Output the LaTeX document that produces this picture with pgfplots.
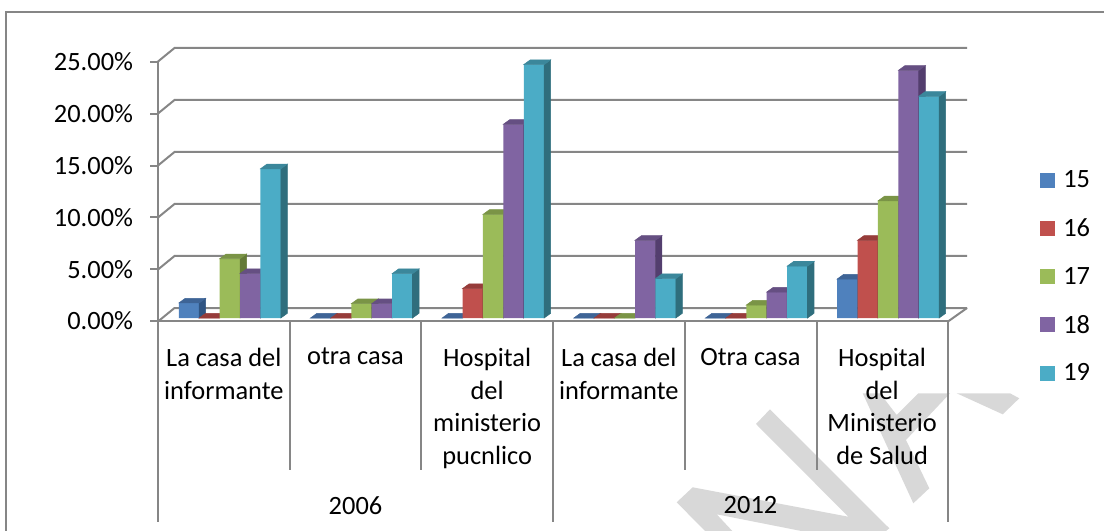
\documentclass[border=0pt]{standalone}
\usepackage{fontspec}
\setmainfont{Carlito}
\usepackage{pgfplots}
\usepackage{pgfplotstable}
\pgfplotsset{compat=1.18}

\definecolor{gridgray}{RGB}{134,134,134}
\definecolor{wmgray}{RGB}{216,216,216}
\definecolor{c15}{HTML}{4F81BD}\definecolor{c15s}{RGB}{47,84,130}\definecolor{c15t}{RGB}{62,100,150}
\definecolor{c16}{HTML}{C0504D}\definecolor{c16s}{RGB}{130,50,47}\definecolor{c16t}{RGB}{150,60,58}
\definecolor{c17}{HTML}{9BBB59}\definecolor{c17s}{RGB}{100,122,55}\definecolor{c17t}{RGB}{122,148,70}
\definecolor{c18}{HTML}{8064A2}\definecolor{c18s}{RGB}{83,62,110}\definecolor{c18t}{RGB}{101,79,130}
\definecolor{c19}{HTML}{4BACC6}\definecolor{c19s}{RGB}{47,110,125}\definecolor{c19t}{RGB}{59,135,155}

\pgfplotstableread{
x   a15  a16  a17   a18   a19
0.5 1.45 0    5.72  4.28  14.40
1.5 0    0    1.38  1.38  4.28
2.5 0    2.84 10.00 18.70 24.46
3.5 0    0    0     7.50  3.80
4.5 0    0    1.25  2.50  5.00
5.5 3.76 7.50 11.30 23.90 21.40
}\datatable

% one series: front of the bar, then its side and top face
\newcommand{\series}[2]{%
  \addplot[ybar, bar shift=#2, bar width=15.3pt, fill=c#1, draw=none,
    yshift=2.25pt] table[x=x, y=a#1] {\datatable};
  \addlegendentry{#1}
  \addplot[forget plot, scatter, only marks, mark=*, mark size=0pt,
    xshift=#2, yshift=2.25pt,
    visualization depends on={7.77*rawy \as \barh},
    scatter/@pre marker code/.code={%
      \fill[c#1s] (7.65pt,0pt) -- ++(4.875pt,3.525pt) -- ++(0pt,-\barh pt) -- ++(-4.875pt,-3.525pt) -- cycle;
      \fill[c#1t] (-7.65pt,0pt) -- ++(4.875pt,3.525pt) -- ++(15.3pt,0pt) -- ++(-4.875pt,-3.525pt) -- cycle;
    },
    scatter/@post marker code/.code={},
  ] table[x=x, y=a#1] {\datatable};
}

\begin{document}
\begin{tikzpicture}[x=0.75pt,y=-0.75pt]
\path[use as bounding box] (0,0) rectangle (1104,531);

% watermark left in the scanned page
\fill[wmgray] (692.7,487.3) -- (848.3,516.7) -- (756,424) -- (770,409.3) -- (889.3,528.3) -- (886,531)
  -- (801.3,531) -- (716.7,514.3) -- (732.3,531) -- (705,531) -- (676.7,502.3) -- cycle;
\fill[wmgray] (862.7,393.3) -- (880,393.3) -- (896.7,415) -- (918.3,393.3) -- (950,393.3) -- (906,440)
  -- (929.3,488.3) -- (913.3,503.3) -- cycle;
\fill[wmgray] (956.7,393.3) -- (1010,393.3) -- (1019.3,398.3) -- (1002.7,414.3) -- cycle;

% chart frame
\draw[gridgray, line width=1.1pt] (6,531) -- (6,12) -- (1104,12);

% back wall and floor
\foreach \yy in {48,100,152,204,256,308} {
  \draw[gridgray, line width=1.5pt] (158,\yy+13.5) -- (174.5,\yy) -- (967,\yy);
}
\draw[gridgray, line width=1.5pt] (948,321.5) -- (967,308);

% multi-level category separators
\foreach \xx in {289.7,421.3,685,816.7} {
  \draw[gridgray, line width=1.3pt] (\xx,321) -- (\xx,470);
}
\foreach \xx in {158,553,948} {
  \draw[gridgray, line width=1.3pt] (\xx,321) -- (\xx,522);
}

\coordinate (o) at (158,321);
\begin{axis}[
  at={(o)}, anchor=origin,
  scale only axis, width=592.5pt, height=194.25pt,
  xmin=0, xmax=6, ymin=0, ymax=25,
  clip=false, clip mode=individual,
  axis lines*=left,
  axis line style={gridgray, line width=1.5pt},
  every tick/.style={gridgray, line width=1.5pt},
  tick align=outside,
  ytick={0,5,...,25},
  yticklabels={0.00\%,5.00\%,10.00\%,15.00\%,20.00\%,25.00\%},
  major tick length=6pt,
  ytick pos=left,
  xtick=\empty,
  tick label style={font=\fontsize{19.8}{24}\selectfont},
  yticklabel style={xshift=-9.2pt},
  legend style={at={(axis cs:6.70,4.26)}, anchor=west, draw=none, fill=none,
    font=\fontsize{19.8}{24}\selectfont, row sep=17.6pt, inner sep=0pt},
  legend cell align=left,
  legend image code/.code={\fill[#1] (0pt,-7.85pt) rectangle (11.25pt,3.4pt); \path (15.2pt,0pt);},
]
\series{15}{-26.1pt}
\series{16}{-10.8pt}
\series{17}{4.5pt}
\series{18}{19.8pt}
\series{19}{35.1pt}

\begin{scope}[every node/.style={font=\fontsize{19.8}{24.5}\selectfont, align=center, anchor=north, inner sep=0pt}]
\node at (axis cs:0.5,-2.6) {La casa del\\informante};
\node at (axis cs:1.5,-2.6) {otra casa};
\node at (axis cs:2.5,-2.6) {Hospital\\del\\ministerio\\pucnlico};
\node at (axis cs:3.5,-2.6) {La casa del\\informante};
\node at (axis cs:4.5,-2.6) {Otra casa};
\node at (axis cs:5.5,-2.6) {Hospital\\del\\Ministerio\\de Salud};
\node at (axis cs:1.5,-16.9) {2006};
\node at (axis cs:4.5,-16.9) {2012};
\end{scope}
\end{axis}
\end{tikzpicture}
\end{document}
